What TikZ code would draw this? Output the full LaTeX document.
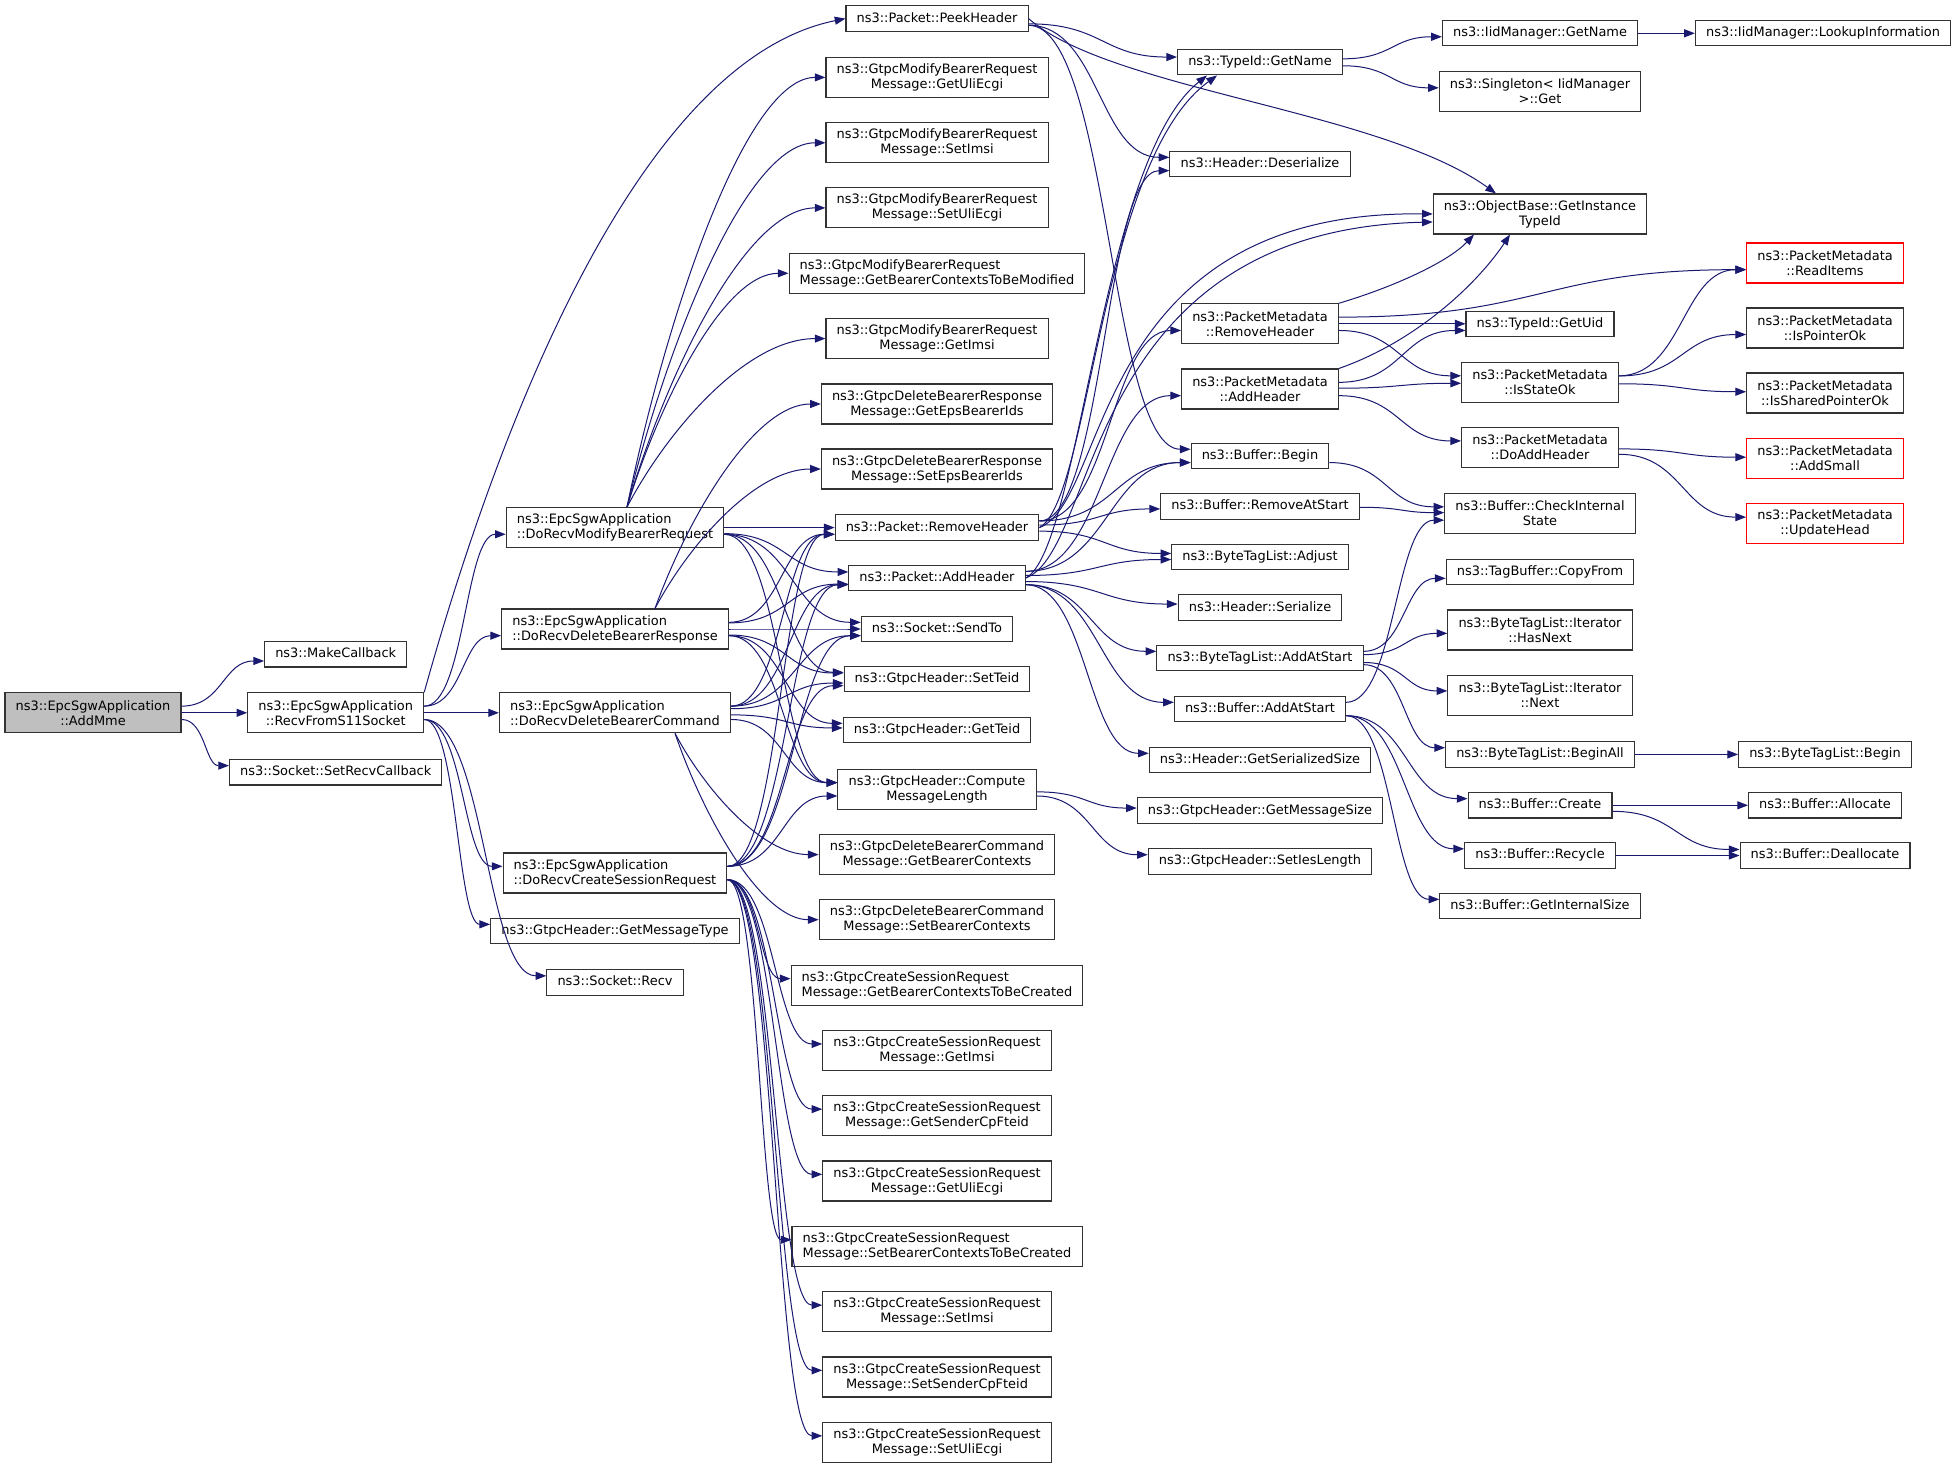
\documentclass[tikz,border=0pt]{standalone}
\usepackage{fontspec}
\setmainfont{DejaVu Sans}
\usepackage{xcolor}
\usepackage{tikz}
\usetikzlibrary{arrows.meta}
\usetikzlibrary{calc}
\definecolor{edgeblue}{RGB}{25,25,112}
\definecolor{boxgray}{RGB}{191,191,191}

% one call: east side of the caller to west side of the callee
\newcommand{\call}[2]{%
  \draw[callarrow] let \p1=(#1.east), \p2=(#2.west),
    \n1={max(min(0.12*(\y2-\y1),5),-5)},
    \n2={max(min(0.12*(\y1-\y2),5),-5)},
    \n3={0.5*(\x1+\x2)} in
    (\x1,\y1+\n1) .. controls (\n3,\y1+\n1) and (\n3,\y2+\n2) .. (\x2,\y2+\n2);}
\newcommand{\calls}[2]{\foreach \callee in {#2} {\call{#1}{\callee}}}
% one call leaving from a given point of the caller (top or bottom)
\newcommand{\callfrom}[2]{%
  \draw[callarrow] let \p1=(#1), \p2=(#2.west), \n1={\x2-\x1}, \n2={\y2-\y1} in
    (\p1) .. controls (\x1+0.2*\n1,\y1+0.45*\n2) and (\x2-0.4*\n1,\y2) .. (\p2);}
\newcommand{\callsfrom}[2]{\foreach \callee in {#2} {\callfrom{#1}{\callee}}}

\begin{document}
\begin{tikzpicture}[x=0.75pt, y=-0.75pt,
    fbase/.style={draw=black!80, fill=white, line width=0.8pt,
      font=\fontsize{9.7}{11.3}\selectfont, inner xsep=8pt, inner ysep=2pt, align=center},
    fbox/.style={fbase, minimum height=19pt, text height=7.2pt, text depth=2pt},
    fbox2/.style={fbase, minimum height=30pt},
    lft/.style={align=left},
    trunc/.style={draw=red},
    cur/.style={fill=boxgray},
    callarrow/.style={draw=edgeblue, line width=0.75pt, -{Triangle[length=8pt,width=6pt]}}]
        \useasboundingbox (0,0) rectangle (1952,1469);

        % Caller
        \node[fbox2, cur] (addmme) at (93,712.8) {ns3::EpcSgwApplication\\::AddMme};

        % First level
        \node[fbox] (makecb) at (335.7,654.3) {ns3::MakeCallback};
        \node[fbox2] (recv11) at (335.7,712.8) {ns3::EpcSgwApplication\\::RecvFromS11Socket};
        \node[fbox] (setrecvcb) at (335.7,772.3) {ns3::Socket::SetRecvCallback};

        % Handlers
        \node[fbox2, lft] (modreq) at (615,527.6) {ns3::EpcSgwApplication\\::DoRecvModifyBearerRequest};
        \node[fbox2, lft] (delresp) at (615,629) {ns3::EpcSgwApplication\\::DoRecvDeleteBearerResponse};
        \node[fbox2, lft] (delcmd) at (615,712.8) {ns3::EpcSgwApplication\\::DoRecvDeleteBearerCommand};
        \node[fbox2, lft] (createreq) at (615,873) {ns3::EpcSgwApplication\\::DoRecvCreateSessionRequest};
        \node[fbox] (getmsgtype) at (615,931) {ns3::GtpcHeader::GetMessageType};
        \node[fbox] (sockrecv) at (615,982.5) {ns3::Socket::Recv};

        % Messages and packets
        \node[fbox] (peek) at (937,18.6) {ns3::Packet::PeekHeader};
        \node[fbox2] (modgetuli) at (937,77.4) {ns3::GtpcModifyBearerRequest\\Message::GetUliEcgi};
        \node[fbox2] (modsetimsi) at (937,142.8) {ns3::GtpcModifyBearerRequest\\Message::SetImsi};
        \node[fbox2] (modsetuli) at (937,207.9) {ns3::GtpcModifyBearerRequest\\Message::SetUliEcgi};
        \node[fbox2, lft] (modgetbc) at (937,273.3) {ns3::GtpcModifyBearerRequest\\Message::GetBearerContextsToBeModified};
        \node[fbox2] (modgetimsi) at (937,338.6) {ns3::GtpcModifyBearerRequest\\Message::GetImsi};
        \node[fbox2] (drgetids) at (937,404) {ns3::GtpcDeleteBearerResponse\\Message::GetEpsBearerIds};
        \node[fbox2] (drsetids) at (937,469) {ns3::GtpcDeleteBearerResponse\\Message::SetEpsBearerIds};
        \node[fbox] (prmhdr) at (937,527.6) {ns3::Packet::RemoveHeader};
        \node[fbox] (paddhdr) at (937,578) {ns3::Packet::AddHeader};
        \node[fbox] (sendto) at (937,629) {ns3::Socket::SendTo};
        \node[fbox] (setteid) at (937,679) {ns3::GtpcHeader::SetTeid};
        \node[fbox] (getteid) at (937,730) {ns3::GtpcHeader::GetTeid};
        \node[fbox2] (computelen) at (937,789.3) {ns3::GtpcHeader::Compute\\MessageLength};
        \node[fbox2] (dcgetbc) at (937,854.6) {ns3::GtpcDeleteBearerCommand\\Message::GetBearerContexts};
        \node[fbox2] (dcsetbc) at (937,919.7) {ns3::GtpcDeleteBearerCommand\\Message::SetBearerContexts};
        \node[fbox2, lft] (csgetbc) at (937,985.3) {ns3::GtpcCreateSessionRequest\\Message::GetBearerContextsToBeCreated};
        \node[fbox2] (csgetimsi) at (937,1050.6) {ns3::GtpcCreateSessionRequest\\Message::GetImsi};
        \node[fbox2] (csgetfteid) at (937,1115.8) {ns3::GtpcCreateSessionRequest\\Message::GetSenderCpFteid};
        \node[fbox2] (csgetuli) at (937,1181) {ns3::GtpcCreateSessionRequest\\Message::GetUliEcgi};
        \node[fbox2, lft] (cssetbc) at (937,1246.4) {ns3::GtpcCreateSessionRequest\\Message::SetBearerContextsToBeCreated};
        \node[fbox2] (cssetimsi) at (937,1311.8) {ns3::GtpcCreateSessionRequest\\Message::SetImsi};
        \node[fbox2] (cssetfteid) at (937,1377) {ns3::GtpcCreateSessionRequest\\Message::SetSenderCpFteid};
        \node[fbox2] (cssetuli) at (937,1442.5) {ns3::GtpcCreateSessionRequest\\Message::SetUliEcgi};

        % Headers and buffers
        \node[fbox] (getname) at (1260,62.3) {ns3::TypeId::GetName};
        \node[fbox] (deser) at (1260,164) {ns3::Header::Deserialize};
        \node[fbox2] (pmrmhdr) at (1260,323.8) {ns3::PacketMetadata\\::RemoveHeader};
        \node[fbox2] (pmaddhdr) at (1260,389) {ns3::PacketMetadata\\::AddHeader};
        \node[fbox] (bufbegin) at (1260,455.9) {ns3::Buffer::Begin};
        \node[fbox] (bufrmstart) at (1260,506.4) {ns3::Buffer::RemoveAtStart};
        \node[fbox] (btladjust) at (1260,557) {ns3::ByteTagList::Adjust};
        \node[fbox] (hdrser) at (1260,607.6) {ns3::Header::Serialize};
        \node[fbox] (btladdstart) at (1260,658) {ns3::ByteTagList::AddAtStart};
        \node[fbox] (bufaddstart) at (1260,709) {ns3::Buffer::AddAtStart};
        \node[fbox] (hdrsize) at (1260,760) {ns3::Header::GetSerializedSize};
        \node[fbox] (msgsize) at (1260,810.6) {ns3::GtpcHeader::GetMessageSize};
        \node[fbox] (setieslen) at (1260,861.4) {ns3::GtpcHeader::SetIesLength};

        % Next level
        \node[fbox] (iidgetname) at (1540,33.3) {ns3::IidManager::GetName};
        \node[fbox2] (singleton) at (1540,91.3) {ns3::Singleton< IidManager\\ >::Get};
        \node[fbox2] (getinst) at (1540,214) {ns3::ObjectBase::GetInstance\\TypeId};
        \node[fbox] (getuid) at (1540,323.8) {ns3::TypeId::GetUid};
        \node[fbox2] (isstateok) at (1540,382.5) {ns3::PacketMetadata\\::IsStateOk};
        \node[fbox2] (doaddhdr) at (1540,447.6) {ns3::PacketMetadata\\::DoAddHeader};
        \node[fbox2] (checkint) at (1540,513.5) {ns3::Buffer::CheckInternal\\State};
        \node[fbox] (copyfrom) at (1540,571.7) {ns3::TagBuffer::CopyFrom};
        \node[fbox2] (hasnext) at (1540,630) {ns3::ByteTagList::Iterator\\::HasNext};
        \node[fbox2] (itnext) at (1540,695.4) {ns3::ByteTagList::Iterator\\::Next};
        \node[fbox] (beginall) at (1540,754.4) {ns3::ByteTagList::BeginAll};
        \node[fbox] (bufcreate) at (1540,805.3) {ns3::Buffer::Create};
        \node[fbox] (recycle) at (1540,855.5) {ns3::Buffer::Recycle};
        \node[fbox] (intsize) at (1540,906) {ns3::Buffer::GetInternalSize};

        % Last level
        \node[fbox] (lookup) at (1823,33.3) {ns3::IidManager::LookupInformation};
        \node[fbox2, trunc] (readitems) at (1825,263) {ns3::PacketMetadata\\::ReadItems};
        \node[fbox2] (isptrok) at (1825,328) {ns3::PacketMetadata\\::IsPointerOk};
        \node[fbox2] (isshptrok) at (1825,393) {ns3::PacketMetadata\\::IsSharedPointerOk};
        \node[fbox2, trunc] (addsmall) at (1825,458.5) {ns3::PacketMetadata\\::AddSmall};
        \node[fbox2, trunc] (updatehead) at (1825,523.8) {ns3::PacketMetadata\\::UpdateHead};
        \node[fbox] (btlbegin) at (1825,754.4) {ns3::ByteTagList::Begin};
        \node[fbox] (allocate) at (1825,805.3) {ns3::Buffer::Allocate};
        \node[fbox] (dealloc) at (1825,855.5) {ns3::Buffer::Deallocate};

        % Calls
        \calls{addmme}{makecb,recv11,setrecvcb}
        \calls{recv11}{modreq,delresp,delcmd,createreq,getmsgtype,sockrecv}
        \draw[callarrow] (recv11.north east) .. controls (500,420) and (640,60) .. (peek.west);
        \callsfrom{$(modreq.north)+(12,0)$}{modgetuli,modsetimsi,modsetuli,modgetbc,modgetimsi}
        \calls{modreq}{prmhdr,paddhdr,sendto,setteid,computelen}
        \callsfrom{$(delresp.north)+(40,0)$}{drgetids,drsetids}
        \calls{delresp}{prmhdr,paddhdr,sendto,setteid,getteid,computelen}
        \callsfrom{$(delcmd.south)+(60,0)$}{dcgetbc,dcsetbc}
        \calls{delcmd}{prmhdr,paddhdr,sendto,setteid,getteid,computelen}
        \calls{createreq}{prmhdr,paddhdr,sendto,setteid,computelen,csgetbc,csgetimsi,csgetfteid,csgetuli,cssetbc,cssetimsi,cssetfteid,cssetuli}

        \calls{peek}{getname,deser,bufbegin}
        \draw[callarrow] (peek.east) .. controls (1110,90) and (1380,110) .. ($(getinst.north)+(-44,0)$);
        \calls{prmhdr}{deser,pmrmhdr,bufbegin,bufrmstart,btladjust}
        \draw[callarrow] (prmhdr.east) .. controls (1090,500) and (1100,160) .. ($(getname.south west)+(40,0)$);
        \draw[callarrow] (prmhdr.east) .. controls (1110,500) and (1090,210) .. (getinst.west);
        \calls{paddhdr}{pmaddhdr,bufbegin,btladjust,hdrser,btladdstart,bufaddstart,hdrsize}
        \draw[callarrow] (paddhdr.east) .. controls (1080,550) and (1100,160) .. ($(getname.south west)+(30,0)$);
        \draw[callarrow] (paddhdr.east) .. controls (1100,550) and (1080,230) .. ($(getinst.west)+(0,8)$);
        \calls{computelen}{msgsize,setieslen}

        \calls{getname}{iidgetname,singleton}
        \calls{iidgetname}{lookup}
        \calls{pmrmhdr}{readitems,getuid,isstateok}
        \draw[callarrow] (pmrmhdr.north east) .. controls (1400,285) and (1450,260) .. ($(getinst.south)+(-66,0)$);
        \calls{pmaddhdr}{getuid,isstateok,doaddhdr}
        \draw[callarrow] (pmaddhdr.north east) .. controls (1420,340) and (1480,280) .. ($(getinst.south)+(-30,0)$);
        \calls{bufbegin}{checkint}
        \calls{bufrmstart}{checkint}
        \calls{btladdstart}{copyfrom,hasnext,itnext,beginall}
        \calls{bufaddstart}{checkint,bufcreate,recycle,intsize}

        \calls{isstateok}{readitems,isptrok,isshptrok}
        \calls{doaddhdr}{addsmall,updatehead}
        \calls{beginall}{btlbegin}
        \calls{bufcreate}{allocate,dealloc}
        \calls{recycle}{dealloc}
    \end{tikzpicture}
\end{document}
